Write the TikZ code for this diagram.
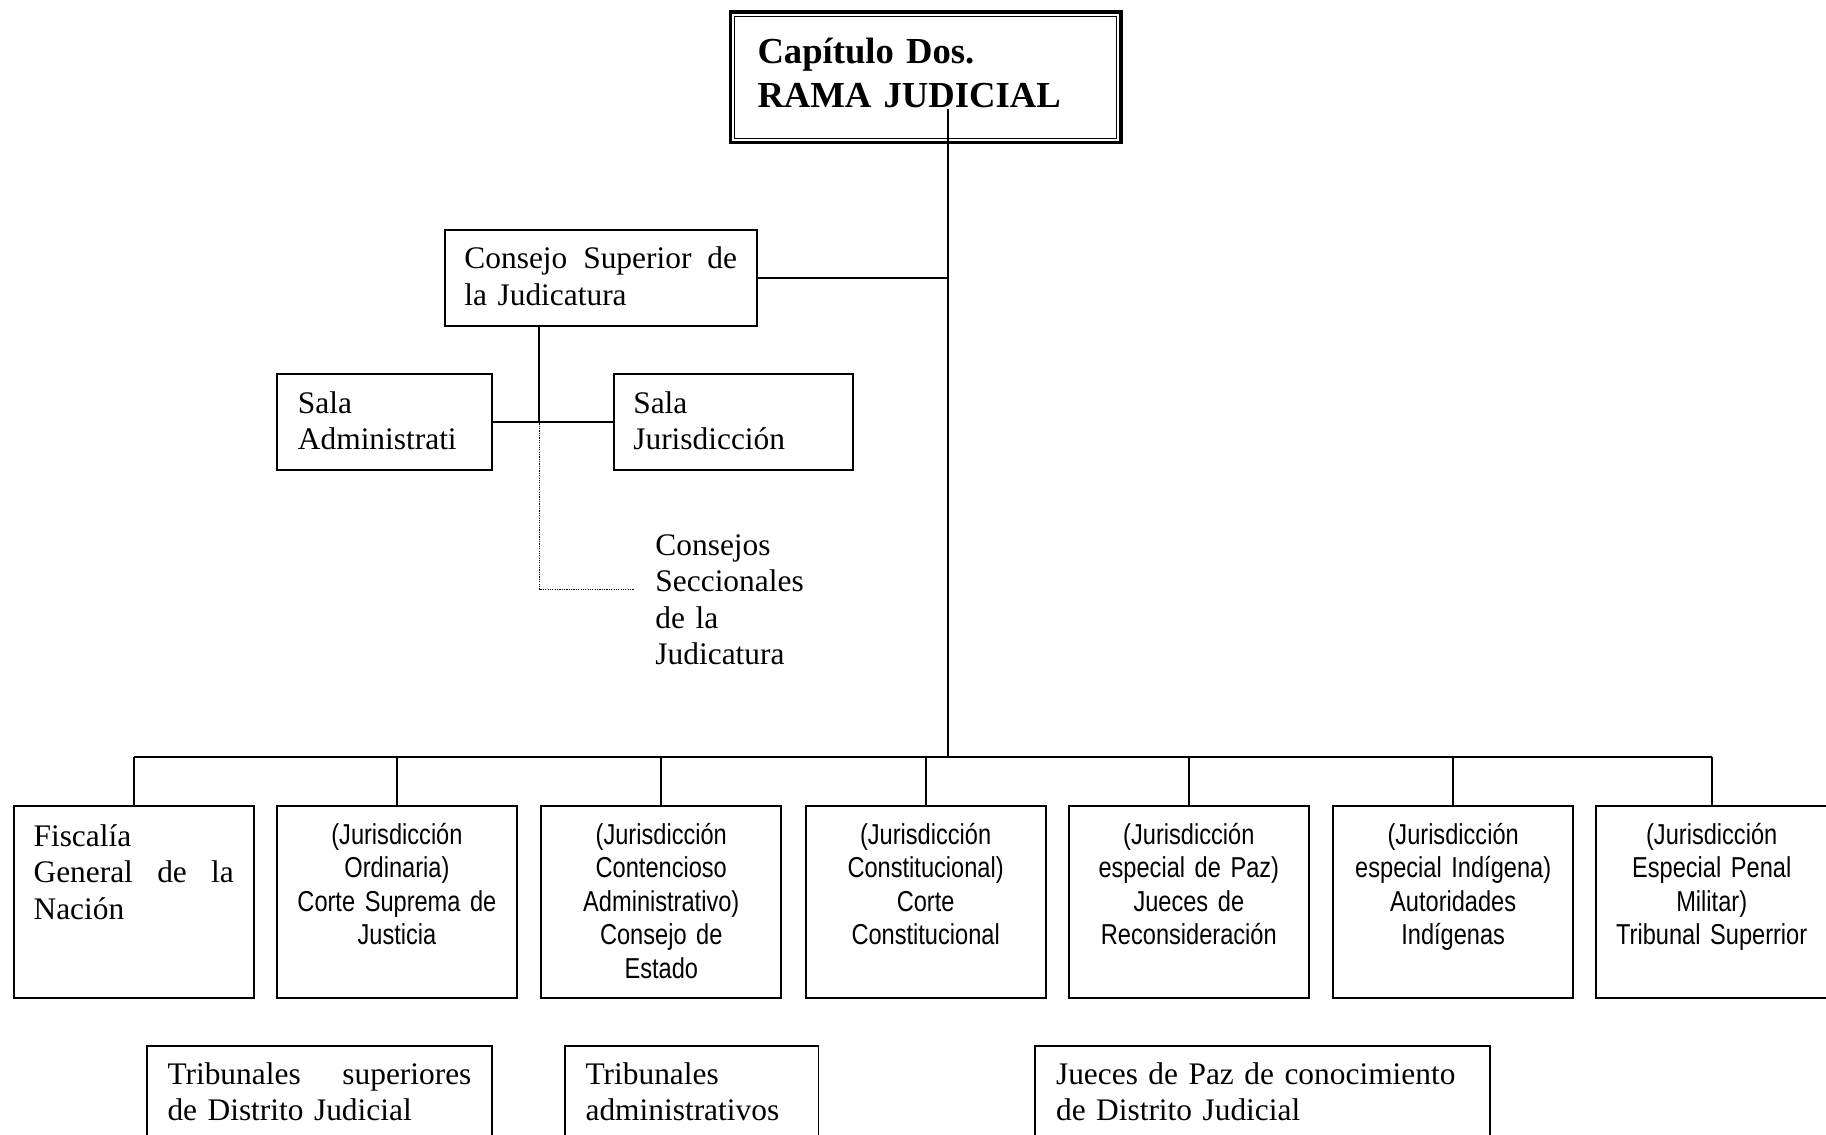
\documentclass[tikz,border=0pt]{standalone}
\usepackage{fontspec}
\setmainfont{Liberation Serif}
\newfontfamily\narrowsans[FakeStretch=0.82]{Liberation Sans}
\newdimen\pxu \pxu=0.445pt

\begin{document}
\begin{tikzpicture}[x=0.445pt, y=-0.445pt, line width=0.75pt,
  titulo/.style={draw, line width=1.3pt, anchor=north west, inner ysep=0pt, inner xsep=23\pxu,
    text width=289\pxu, text height=44\pxu, text depth=68\pxu, align=left,
    font=\bfseries\fontsize{14}{16.9}\selectfont},
  caja/.style={draw, anchor=north west, inner ysep=0pt, inner xsep=17\pxu, align=left,
    text height=33\pxu, font=\fontsize{12}{13.9}\selectfont},
  juris/.style={draw, anchor=north west, inner ysep=0pt, inner xsep=8\pxu, text width=190\pxu,
    align=center, text height=33\pxu, text depth=132\pxu,
    font=\narrowsans\fontsize{11}{12.8}\selectfont},
  punteado/.style={line width=0.4pt, dash pattern=on 0.45pt off 0.45pt}]
\useasboundingbox (0,0) rectangle (1568,974);

\node[titulo] (titulo) at (626,9) {Capítulo Dos.\\ RAMA JUDICIAL};
\draw[line width=0.5pt] ([shift={(5,5)}]titulo.north west) rectangle ([shift={(-5,-5)}]titulo.south east);

\node[caja, text width=234\pxu, text depth=49\pxu] (consejo) at (381,197) {Consejo\hfill Superior\hfill de\\ la Judicatura};
\node[caja, inner xsep=18\pxu, text width=149\pxu, text height=34\pxu, text depth=49\pxu] (salaadm) at (237,320) {Sala\\ Administrati};
\node[caja, text width=172\pxu, text height=34\pxu, text depth=49\pxu] (salajur) at (526,320) {Sala\\ Jurisdicción};
\node[anchor=base west, inner sep=0pt, text width=150\pxu, align=left, font=\fontsize{12}{13.9}\selectfont] (seccional) at (562,477) {Consejos\\ Seccionales\\ de la\\ Judicatura};

\node[caja, text width=172\pxu, text height=35\pxu, text depth=130\pxu] (fiscalia) at (11,691) {Fiscalía\\ General\hfill de\hfill la\\ Nación};
\node[juris] (ordinaria) at (237,691) {(Jurisdicción\\ Ordinaria)\\ Corte Suprema de\\ Justicia};
\node[juris] (contencioso) at (464,691) {(Jurisdicción\\ Contencioso\\ Administrativo)\\ Consejo de\\ Estado};
\node[juris] (constitucional) at (691,691) {(Jurisdicción\\ Constitucional)\\ Corte\\ Constitucional};
\node[juris] (paz) at (917,691) {(Jurisdicción\\ especial de Paz)\\ Jueces de\\ Reconsideración};
\node[juris] (indigena) at (1144,691) {(Jurisdicción\\ especial Indígena)\\ Autoridades\\ Indígenas};
\node[juris, text width=182\pxu] (militar) at (1370,691) {(Jurisdicción\\ Especial Penal\\ Militar)\\ Tribunal Superrior};

\node[caja, inner xsep=18\pxu, text width=261\pxu, text depth=100\pxu] (tribsup) at (125,897) {Tribunales\hfill superiores\\ de Distrito Judicial};
\node[caja, inner xsep=18\pxu, text width=182\pxu, text depth=100\pxu] (tribadm) at (484,897) {Tribunales\\ administrativos};
\node[caja, inner xsep=18\pxu, text width=355\pxu, text depth=100\pxu] (juecespaz) at (888,897) {Jueces de Paz de conocimiento\\ de Distrito Judicial};

\coordinate (tronco) at (814,94);
\coordinate (bus) at (814,650);
\coordinate (nudo) at (463,361.5);
\coordinate (seccion) at (544,506);

\draw (tronco) -- (bus);
\draw (consejo.east) -- (consejo.east -| tronco);
\draw (consejo.south -| nudo) -- (nudo);
\draw (salaadm.east) -- (salajur.west);
\draw[punteado] (nudo) |- (seccion);

\draw (fiscalia.north |- bus) -- (militar.north |- bus);
\foreach \n in {fiscalia,ordinaria,contencioso,constitucional,paz,indigena,militar}
  \draw (\n.north |- bus) -- (\n.north);
\end{tikzpicture}
\end{document}
